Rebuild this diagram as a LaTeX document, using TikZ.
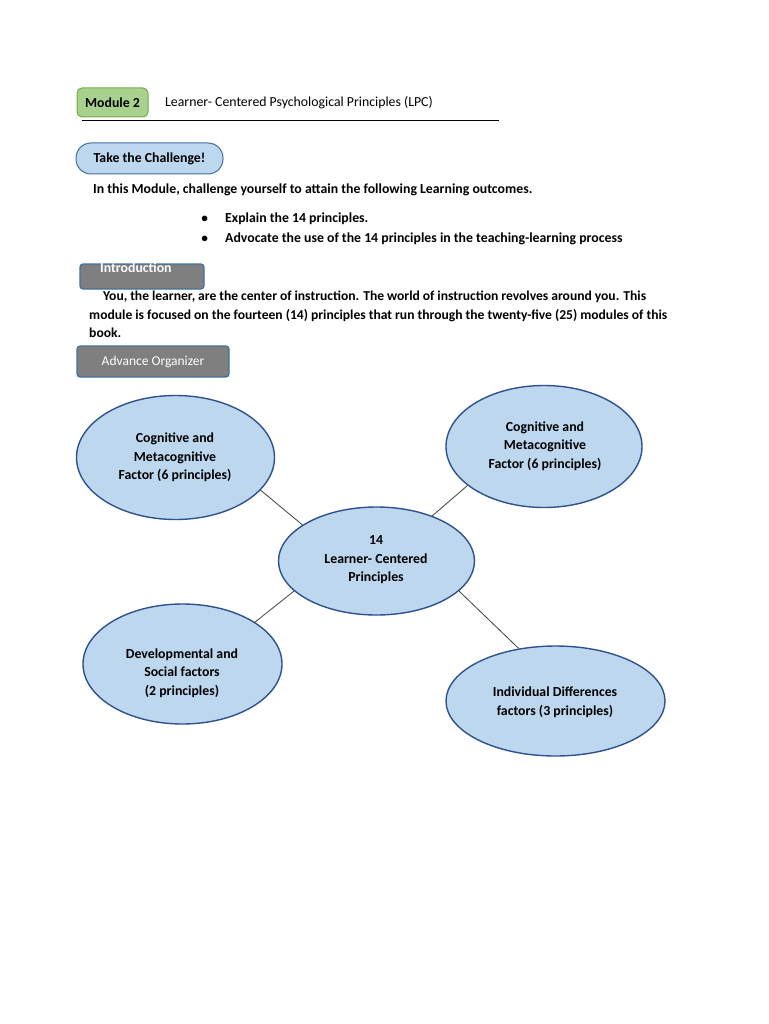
\documentclass[tikz,border=0pt]{standalone}
\usepackage{fontspec}
\setmainfont{Carlito}
\usetikzlibrary{shapes.geometric}
\definecolor{lgreen}{HTML}{A9D18E}
\definecolor{dgreen}{HTML}{70AD47}
\definecolor{lblue}{HTML}{BDD7EE}
\definecolor{dblue}{HTML}{41719C}
\definecolor{eblue}{HTML}{2F528F}
\definecolor{gbox}{HTML}{7F7F7F}
\begin{document}
\begin{tikzpicture}[x=1pt,y=-1pt,
  txt/.style={inner sep=0pt, font=\fontsize{13.8}{18.5}\selectfont\bfseries, anchor=base west},
  ptxt/.style={inner sep=0pt, font=\fontsize{13.6}{18.5}\selectfont\bfseries, anchor=base west},
  rtxt/.style={inner sep=0pt, font=\fontsize{13.8}{16}\selectfont, anchor=base west},
  greenbox/.style={draw=dgreen, line width=1pt, fill=lgreen, rounded corners=5pt, inner sep=0pt, font=\fontsize{13.8}{16}\selectfont\bfseries},
  pillbox/.style={draw=dblue, line width=1pt, fill=lblue, rounded corners=15pt, inner sep=0pt, font=\fontsize{13.8}{16}\selectfont\bfseries},
  graybox/.style={draw=dblue, line width=1.2pt, fill=gbox, rounded corners=3pt, inner sep=0pt, text=white, font=\fontsize{13.5}{16}\selectfont},
  bub/.style={ellipse, draw=eblue, line width=1.4pt, fill=lblue, inner sep=0pt},
  bubtext/.style={inner sep=0pt, align=center, font=\fontsize{13.8}{18.5}\selectfont\bfseries},
  link/.style={draw=black!75, line width=0.8pt}
]
\useasboundingbox (0,0) rectangle (768,1024);
\fill[white] (0,0) rectangle (768,1024);

% header
\node[greenbox, minimum width=71pt, minimum height=29pt] (mod) at (112.5,102.5) {Module 2};
\node[rtxt] (title) at (165,106.5) {Learner- Centered Psychological Principles (LPC)};
\coordinate (hl1) at (82,121);
\coordinate (hl2) at (499,121);
\draw[line width=1pt] (hl1) -- (hl2);

% challenge
\node[pillbox, minimum width=147pt, minimum height=31pt] (chal) at (149.5,158.5) {Take the Challenge!};
\node[txt] (intro1) at (93,193.5) {In this Module, challenge yourself to attain the following Learning outcomes.};
\node[txt] (b1) at (201,222.5) {$\bullet$};
\node[txt] (o1) at (225,222.5) {Explain the 14 principles.};
\node[txt] (b2) at (201,242.5) {$\bullet$};
\node[txt] (o2) at (225,242.5) {Advocate the use of the 14 principles in the teaching-learning process};

% introduction
\node[graybox, minimum width=124pt, minimum height=25pt] (ibox) at (142,276.5) {};
\node[txt, text=white] (ilab) at (100,272) {Introduction};
\node[ptxt] (p1) at (103,300.5) {\makebox[543pt][s]{You, the learner, are the center of instruction. The world of instruction revolves around you. This}};
\node[ptxt] (p2) at (89,319.5) {\makebox[578pt][s]{module is focused on the fourteen (14) principles that run through the twenty-five (25) modules of this}};
\node[ptxt] (p3) at (89,337.5) {book.};

% advance organizer
\node[graybox, minimum width=152pt, minimum height=31pt] (adv) at (153,361.5) {Advance Organizer};

% bubbles
\node[bub, minimum width=198pt, minimum height=124pt] (tl) at (175.5,457.5) {};
\node[bub, minimum width=196pt, minimum height=122pt] (tr) at (544,446.5) {};
\node[bub, minimum width=196pt, minimum height=108pt] (c) at (376.5,561) {};
\node[bub, minimum width=199pt, minimum height=120pt] (bl) at (182.5,664) {};
\node[bub, minimum width=219pt, minimum height=110pt] (br) at (555.5,701) {};

\node[bubtext] (tlt) at (175,457.5) {Cognitive and\\Metacognitive\\Factor (6 principles)};
\node[bubtext] (trt) at (545,446) {Cognitive and\\Metacognitive\\Factor (6 principles)};
\node[bubtext] (ct) at (376,560) {14\\Learner- Centered\\Principles};
\node[bubtext] (blt) at (182,673) {Developmental and\\Social factors\\(2 principles)};
\node[bubtext] (brt) at (555,702) {Individual Differences\\factors (3 principles)};

\draw[link] (tl.-21) -- (c.154);
\draw[link] (tr.-153) -- (c.39);
\draw[link] (bl.30) -- (c.200);
\draw[link] (c.-20) -- (br.125);
\end{tikzpicture}
\end{document}
